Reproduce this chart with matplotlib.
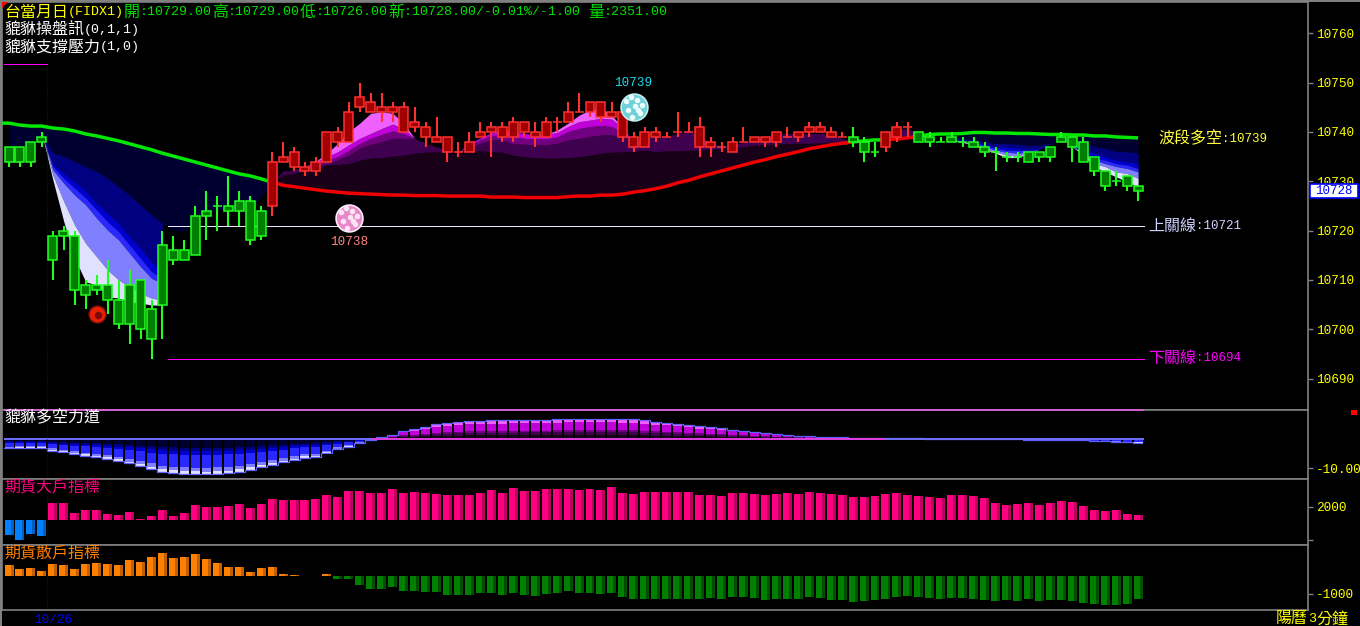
import re
import numpy as np
import matplotlib
matplotlib.use('Agg')
import matplotlib.pyplot as plt
from matplotlib.lines import Line2D
from matplotlib.patches import Rectangle

W, H = 1360, 626

opens = [10737, 10737, 10738, 10739, 10719, 10720, 10719, 10709, 10709, 10709,
         10706, 10709, 10710, 10704, 10717, 10716, 10716, 10723, 10724, 10725,
         10725, 10726, 10726, 10724, 10725, 10734, 10733, 10732, 10732, 10734,
         10738, 10738, 10745, 10744, 10744, 10744, 10740, 10741, 10739, 10738,
         10736, 10736, 10736, 10739, 10740, 10739, 10739, 10740, 10739, 10739,
         10742, 10742, 10744, 10744, 10743, 10743, 10739, 10737, 10737, 10739,
         10739, 10740, 10740, 10737, 10737, 10737, 10736, 10738, 10738, 10738,
         10738, 10739, 10739, 10740, 10740, 10739, 10739, 10739, 10738, 10736,
         10737, 10739, 10741, 10740, 10739, 10738, 10739, 10738, 10738, 10737,
         10736, 10735, 10735, 10736, 10736, 10737, 10739, 10739, 10738, 10735,
         10732, 10730, 10731, 10729]
highs = [10737, 10737, 10738, 10740, 10720, 10721, 10720, 10710, 10711, 10714,
         10710, 10712, 10710, 10706, 10720, 10719, 10718, 10725, 10728, 10727,
         10731, 10728, 10727, 10725, 10736, 10738, 10737, 10734, 10735, 10740,
         10741, 10746, 10750, 10748, 10748, 10746, 10746, 10745, 10742, 10743,
         10739, 10738, 10740, 10742, 10742, 10742, 10743, 10742, 10742, 10743,
         10743, 10746, 10748, 10746, 10746, 10746, 10744, 10740, 10741, 10741,
         10740, 10744, 10742, 10743, 10739, 10738, 10739, 10741, 10739, 10739,
         10740, 10741, 10740, 10742, 10742, 10741, 10740, 10741, 10739, 10738,
         10740, 10742, 10742, 10740, 10740, 10739, 10740, 10739, 10739, 10738,
         10737, 10736, 10736, 10736, 10736, 10737, 10740, 10739, 10739, 10735,
         10732, 10732, 10731, 10729]
lows = [10733, 10733, 10733, 10737, 10710, 10716, 10705, 10704, 10707, 10703,
        10700, 10697, 10698, 10694, 10698, 10713, 10714, 10715, 10718, 10720,
        10721, 10721, 10717, 10718, 10723, 10734, 10732, 10731, 10731, 10734,
        10737, 10738, 10744, 10744, 10742, 10742, 10740, 10740, 10737, 10738,
        10734, 10735, 10736, 10739, 10735, 10738, 10738, 10739, 10737, 10739,
        10740, 10742, 10744, 10743, 10742, 10743, 10738, 10736, 10737, 10738,
        10739, 10739, 10740, 10735, 10735, 10736, 10736, 10738, 10738, 10737,
        10737, 10739, 10738, 10739, 10740, 10739, 10739, 10737, 10734, 10735,
        10736, 10738, 10739, 10738, 10737, 10738, 10738, 10737, 10737, 10735,
        10732, 10734, 10734, 10734, 10734, 10734, 10738, 10734, 10734, 10731,
        10728, 10729, 10728, 10726]
closes = [10734, 10734, 10734, 10738, 10714, 10719, 10708, 10707, 10708, 10706,
          10701, 10701, 10700, 10698, 10705, 10714, 10714, 10715, 10723, 10725,
          10724, 10724, 10718, 10719, 10734, 10735, 10736, 10733, 10734, 10740,
          10740, 10744, 10747, 10746, 10745, 10745, 10745, 10742, 10741, 10739,
          10739, 10736, 10738, 10740, 10741, 10741, 10742, 10742, 10740, 10742,
          10742, 10744, 10744, 10746, 10746, 10744, 10744, 10739, 10740, 10740,
          10739, 10740, 10740, 10741, 10738, 10737, 10738, 10738, 10739, 10739,
          10740, 10739, 10740, 10741, 10741, 10740, 10739, 10738, 10736, 10736,
          10740, 10741, 10741, 10738, 10738, 10738, 10738, 10738, 10737, 10736,
          10736, 10735, 10735, 10734, 10735, 10735, 10738, 10737, 10734, 10732,
          10729, 10730, 10729, 10728]

# wave line, first value is the left edge of the chart
wave = [41.8, 41.8, 41.4, 41.2, 41.2, 40.8, 40.6, 40.2, 39.6, 39.2, 38.7,
        38.2, 37.6, 37.0, 36.4, 35.7, 35.1, 34.5, 33.9, 33.3, 32.7,
        32.1, 31.5, 31.1, 30.5, 29.8, 29.2, 28.9, 28.6, 28.3, 28.0,
        27.8, 27.6, 27.5, 27.4, 27.3, 27.2, 27.2, 27.1, 27.1, 27.1,
        27.0, 27.0, 27.0, 27.0, 26.8, 26.8, 26.8, 26.7, 26.7, 26.7,
        26.7, 26.9, 27.0, 27.0, 27.2, 27.2, 27.4, 27.8, 28.1, 28.5,
        29.0, 29.7, 30.2, 30.9, 31.5, 32.1, 32.7, 33.3, 33.9, 34.4,
        35.0, 35.5, 36.0, 36.6, 37.0, 37.4, 37.7, 38.0, 38.2, 38.4,
        38.4, 38.6, 38.8, 39.2, 39.5, 39.6, 39.6, 39.7, 39.9, 39.9,
        39.8, 39.8, 39.7, 39.7, 39.6, 39.5, 39.5, 39.4, 39.4, 39.2,
        39.2, 39.0, 38.9, 38.8, 38.7]
wave_breaks = [0, 24, 77, 80, 83, 104]
wave_trend = ['bear', 'bull', 'bear', 'bull', 'bear']

# fan under the wave line on the way down
bear_dark = [37.0, 37.0, 38.0, 39.7, 35.8, 35.1, 34.0, 33.0, 32.0, 30.6, 28.9, 27.2,
             25.2, 23.2, 21.5, 20.1, 19.8, 22.5, 23.5, 24.2, 24.2, 23.8, 24.2, 26.9, 29.8]
bear1_e2 = [39.7, 33.6, 31.6, 29.9, 27.9, 25.5, 23.5, 21.5, 18.8, 16.4, 13.7, 12.0]
bear1_e3 = [39.7, 33.0, 30.6, 28.6, 26.6, 24.2, 21.8, 19.8, 17.1, 14.4, 11.7, 10.3]
bear1_e4 = [39.7, 32.3, 29.6, 27.2, 25.2, 22.5, 20.1, 18.1, 15.4, 12.7, 10.3, 9.3]
bear1_e5 = [39.7, 31.3, 25.9, 21.1, 17.4, 14.7, 12.0, 10.0, 8.6, 7.3, 6.3, 5.9]
bear1_e6 = [39.7, 30.3, 21.8, 14.4, 9.6, 9.0, 6.6, 6.3, 5.6, 5.3, 4.9, 4.9]

# same fan at the right end
bear3_e1 = [39.0, 38.7, 38.4, 38.0, 37.7, 37.7, 37.5, 37.3, 37.3, 37.7, 38.8, 38.4, 38.0, 37.0, 36.7, 36.1, 36.0, 35.7]
bear3_e2 = [38.7, 38.4, 38.0, 37.5, 37.0, 37.0, 36.8, 36.5, 36.7, 37.5, 38.7, 37.3, 36.5, 35.7, 35.0, 34.3, 34.0, 33.6]
bear3_e3 = [38.6, 38.2, 37.9, 37.3, 36.7, 36.3, 36.3, 36.3, 36.5, 37.5, 38.7, 37.2, 36.1, 34.6, 34.3, 33.6, 33.3, 32.6]
bear3_e4 = [38.4, 38.2, 37.7, 37.0, 36.3, 35.9, 35.7, 35.9, 36.5, 37.5, 38.7, 37.0, 35.9, 34.3, 33.6, 33.0, 32.6, 31.9]
bear3_e5 = [38.4, 38.0, 37.5, 36.7, 36.0, 35.3, 35.2, 35.7, 36.5, 37.5, 38.7, 37.0, 35.7, 33.6, 33.0, 31.9, 31.6, 30.6]
bear3_e6 = [38.3, 37.9, 37.3, 36.5, 35.7, 34.8, 34.8, 35.7, 36.5, 37.5, 38.7, 37.0, 35.3, 33.0, 31.9, 30.9, 29.9, 28.9]

# fan over the wave line on the way up
bull_u1 = [30.0, 31.3, 31.6, 32.3, 32.6, 33.3, 33.4, 33.6, 34.3, 34.7,
           34.8, 35.1, 35.3, 35.7, 35.9, 36.0, 36.0, 36.0, 36.1, 36.2,
           36.0, 35.9, 35.3, 35.0, 34.8, 34.7, 34.7, 34.8, 35.0, 35.3,
           35.7, 35.9, 36.0, 36.1, 36.3, 36.0, 36.2, 36.2, 36.3, 36.3,
           36.5, 36.7, 36.9, 37.0, 37.3, 37.5, 37.5, 37.7, 37.7, 37.7,
           37.8, 38.0, 38.0, 38.0]
bull_u2 = [30.0, 32.1, 32.3, 32.6, 33.2, 33.6, 34.3, 35.3, 36.7, 37.5,
           38.0, 38.7, 38.7, 38.7, 37.7, 37.0, 36.3, 36.0, 37.0, 37.7,
           38.4, 38.4, 37.6, 37.5, 37.4, 37.4, 37.7, 38.4, 38.7, 39.1,
           39.4, 39.4, 39.1, 38.0, 38.7, 39.1, 39.1, 39.7, 40.4, 39.0,
           38.0, 37.0, 37.3, 38.0, 38.7, 39.0, 39.6, 39.7, 39.6, 39.7,
           39.7, 39.6, 38.7, 38.0]
bull_u3 = [30.0, 32.1, 32.3, 33.0, 33.6, 34.3, 35.0, 36.3, 37.7, 38.7,
           39.5, 40.2, 39.7, 38.7, 37.7, 37.0, 36.3, 36.0, 37.4, 38.4,
           39.3, 39.5, 39.0, 38.7, 38.6, 38.6, 39.0, 40.1, 40.7, 41.1,
           41.3, 41.1, 39.7, 38.0]
bull_u4 = [30.0, 32.1, 32.3, 33.0, 34.0, 35.0, 36.0, 37.4, 38.7, 39.7,
           40.7, 41.6, 40.7, 38.7, 37.7, 37.0, 36.3, 36.0, 37.7, 38.8,
           39.9, 40.4, 40.1, 39.7, 39.5, 39.5, 39.9, 41.1, 42.1, 42.4,
           42.8, 42.6, 40.7, 38.0]
bull_u5 = [30.0, 32.1, 32.3, 33.0, 34.1, 35.7, 37.7, 40.1, 41.8, 43.8,
           44.1, 43.8, 41.8, 38.7, 37.7, 37.0, 36.3, 36.0, 37.7, 38.8,
           39.9, 40.4, 40.1, 39.7, 39.5, 39.5, 40.4, 41.8, 43.4, 44.5,
           44.8, 43.4, 40.7, 38.0]
bull2_top = [38.4, 39.5, 40.6, 40.7, 39.5]

power = [-3.3, -3.1, -3.1, -3.1, -4.1, -4.7, -5.3, -5.8, -6.4, -6.9,
         -7.6, -8.4, -9.2, -10.3, -11.2, -11.6, -11.9, -12.0, -12.1, -11.9,
         -11.7, -11.2, -10.5, -9.8, -9.0, -8.1, -7.3, -6.5, -6.2, -5.0,
         -3.7, -2.8, -1.6, -0.5, 0.4, 1.2, 2.5, 3.2, 4.0, 4.8,
         5.1, 5.5, 5.9, 6.0, 6.2, 6.2, 6.3, 6.4, 6.4, 6.4,
         6.6, 6.7, 6.7, 6.7, 6.7, 6.7, 6.6, 6.5, 6.2, 5.7,
         5.4, 5.0, 4.6, 4.1, 3.9, 3.4, 3.0, 2.5, 2.1, 1.8,
         1.4, 1.1, 1.0, 0.8, 0.6, 0.5, 0.4, 0.3, 0.3, 0.2,
         0.2, 0.1, 0.1, 0.1, 0.0, 0.0, 0.0, 0.0, 0.0, 0.0,
         -0.1, -0.2, -0.3, -0.4, -0.5, -0.6, -0.6, -0.6, -0.6, -0.9,
         -1.0, -1.1, -1.3, -1.4]

big_trader = [-2250, -3000, -2100, -2400, 2550, 2550, 1050, 1500, 1500, 900,
              750, 1200, 100, 600, 1500, 600, 1050, 2250, 1950, 1950,
              2100, 2400, 1800, 2400, 3150, 3000, 3000, 3000, 3150, 3750,
              3450, 4350, 4350, 4050, 4050, 4650, 4050, 4200, 4050, 3900,
              3750, 3750, 3750, 4050, 4500, 4050, 4800, 4350, 4350, 4650,
              4650, 4650, 4500, 4650, 4500, 4950, 4050, 3900, 4200, 4200,
              4200, 4200, 4200, 3750, 3750, 3600, 4050, 4050, 3900, 3750,
              3900, 4050, 3900, 4200, 4050, 3900, 3750, 3450, 3450, 3600,
              3900, 4050, 3750, 3600, 3450, 3300, 3750, 3750, 3600, 3300,
              2550, 2250, 2400, 2550, 2250, 2550, 2850, 2700, 2100, 1500,
              1350, 1500, 900, 750]

retail = [610, 390, 445, 280, 665, 610, 390, 665, 720, 665,
          610, 890, 780, 1055, 1275, 1000, 1055, 1220, 945, 720,
          500, 500, 220, 445, 500, 110, 55, 20, 20, 110,
          -165, -165, -500, -720, -720, -610, -830, -830, -890, -890,
          -1055, -1055, -1055, -945, -945, -1055, -945, -1055, -1110, -1000,
          -945, -830, -945, -945, -1000, -945, -1165, -1275, -1275, -1275,
          -1275, -1275, -1275, -1275, -1220, -1275, -1165, -1165, -1220, -1330,
          -1275, -1275, -1275, -1165, -1220, -1330, -1330, -1440, -1390, -1330,
          -1275, -1165, -1110, -1165, -1220, -1275, -1220, -1220, -1275, -1330,
          -1390, -1330, -1390, -1275, -1390, -1330, -1330, -1390, -1500, -1555,
          -1610, -1610, -1555, -1275]

price_ticks = [10690, 10700, 10710, 10720, 10730, 10740, 10750, 10760]
upper_level = 10721
lower_level = 10694

BEAR_COLORS = ['#000030', '#000080', '#0000d0', '#2828ff', '#8080ff', '#e0e0ff']
BULL_COLORS = ['#180018', '#400050', '#700080', '#c000d8', '#f060ff', '#ffd0ff']
BEAR_STEPS = [0.26, 0.36, 0.46, 0.82, 0.93, 1.0]
BULL_STEPS = [0.18, 0.32, 0.42, 0.82, 0.95, 1.0]
GRAY = '#808080'

plt.rcParams['font.family'] = ['Liberation Mono', 'Noto Sans CJK TC']


def pos(x, y):
    return x / W, 1 - y / H


def px_text(x, y, s, color, ascii_w=8.0):
    # the source uses a bitmap font: CJK 16 px wide, latin half of that
    for run in re.findall(r'[\x00-\x7f]+|[^\x00-\x7f]+', s):
        if run[0].isascii():
            fig.text(*pos(x, y), run, color=color, va='center', ha='left',
                     family='Liberation Mono', fontsize=ascii_w / 0.6 * 0.72)
            x += len(run) * ascii_w
        else:
            fig.text(*pos(x, y), run, color=color, va='center', ha='left',
                     family='Noto Sans CJK TC', fontsize=11.5)
            x += len(run) * 16


def add_panel(top, bottom):
    a = fig.add_axes([2 / W, 1 - bottom / H, 1306 / W, (bottom - top) / H])
    a.set_facecolor('black')
    a.set_xlim(-0.64, 118.5)
    a.set_xticks([])
    a.yaxis.tick_right()
    a.tick_params(axis='y', direction='out', length=3.6, width=1, color=GRAY,
                  labelcolor='#ffff00', labelsize=9.2, pad=2)
    for side in a.spines:
        a.spines[side].set_color(GRAY)
        a.spines[side].set_linewidth(1.2)
    return a


def band(a, x, lo, hi, color):
    a.fill_between(x, lo, hi, color=color, linewidth=0, antialiased=False, zorder=1)


def gradient_bars(a, x, vals, steps, colors):
    x = np.asarray(x)
    vals = np.asarray(vals)
    prev = 0.0
    for st, c in zip(steps, colors):
        a.bar(x, vals * (st - prev), bottom=vals * prev, width=0.82, color=c,
              linewidth=0, antialiased=False)
        prev = st


def shaded_bars(a, x, vals, color, dark):
    a.bar(x, vals, width=0.82, color=color, linewidth=0, antialiased=False)
    a.bar(np.asarray(x) + 0.275, vals, width=0.27, color=dark, linewidth=0, antialiased=False)


def ball(a, x, y, rim, body, flecks):
    a.scatter([x], [y], s=420, color=rim, linewidths=0, zorder=6)
    a.scatter([x], [y], s=330, color=body, linewidths=0, zorder=6)
    # mottled surface of the signal ball
    fx = [-0.7, -0.3, 0.3, 0.7, -0.5, 0.1, 0.6, -0.2, 0.4]
    fy = [1.2, 2.0, 1.5, 0.4, -0.6, 0.2, -1.2, -1.9, -0.5]
    a.scatter(x + np.array(fx), y + np.array(fy), s=16, color=flecks, linewidths=0, zorder=6)


fig = plt.figure(figsize=(W / 100, H / 100), dpi=100, facecolor='black')

idx = np.arange(len(closes))
base = 10700

# main price panel
ax = add_panel(2, 410)
ax.set_ylim(10740 - (410 - 132) / 4.93, 10740 - (2 - 132) / 4.93)
ax.set_yticks(price_ticks)
ax.set_yticklabels([str(p) for p in price_ticks])

wave_price = base + np.array(wave)
wave_x = np.r_[-0.64, idx]
wave_i = wave_price[1:]

# left fan
band(ax, idx[:25], wave_i[:25], base + np.array(bear_dark), BEAR_COLORS[0])
bear1_x = np.arange(3, 15)
bear1_edges = [base + np.array(bear_dark[3:15]), base + np.array(bear1_e2), base + np.array(bear1_e3),
               base + np.array(bear1_e4), base + np.array(bear1_e5), base + np.array(bear1_e6)]
for k in range(5):
    band(ax, bear1_x, bear1_edges[k], bear1_edges[k + 1], BEAR_COLORS[k + 1])

# right fan
bear3_x = np.arange(86, 104)
bear3_edges = [wave_i[86:104], base + np.array(bear3_e1), base + np.array(bear3_e2), base + np.array(bear3_e3),
               base + np.array(bear3_e4), base + np.array(bear3_e5), base + np.array(bear3_e6)]
for k in range(6):
    band(ax, bear3_x, bear3_edges[k], bear3_edges[k + 1], BEAR_COLORS[k])

# middle fan
bull_x = np.arange(24, 78)
bull_hi_x = np.arange(24, 58)
band(ax, bull_x, wave_i[24:78], base + np.array(bull_u1), BULL_COLORS[0])
band(ax, bull_x, base + np.array(bull_u1), base + np.array(bull_u2), BULL_COLORS[1])
band(ax, bull_hi_x, base + np.array(bull_u2[:34]), base + np.array(bull_u3), BULL_COLORS[2])
band(ax, bull_hi_x, base + np.array(bull_u3), base + np.array(bull_u4), BULL_COLORS[3])
band(ax, bull_hi_x, base + np.array(bull_u4), base + np.array(bull_u5), BULL_COLORS[4])
band(ax, np.arange(79, 84), wave_i[79:84], base + np.array(bull2_top), BULL_COLORS[1])

ax.hlines(upper_level, 14.5, 103.5, color='#e8e8ff', lw=0.6, antialiased=False, zorder=2)
ax.hlines(lower_level, 14.5, 103.5, color='#ff00ff', lw=0.6, antialiased=False, zorder=2)
ax.axvline(3.5, ymin=0, ymax=(410 - 62) / 408, color='#0000ff', lw=0.72, ls=(0, (1, 2)), zorder=2)

# wave line and candles, colour follows the trend
for k, trend in enumerate(wave_trend):
    a, b = wave_breaks[k], wave_breaks[k + 1]
    line_c, edge_c, body_c = (('#00e800', '#20ff20', '#008000') if trend == 'bear'
                              else ('#f00000', '#ff3030', '#a00000'))
    if k == 0:
        lx, ly = wave_x[:b + 2], wave_price[:b + 2]
    else:
        lx, ly = idx[a:min(b + 1, 104)], wave_i[a:min(b + 1, 104)]
    ax.plot(lx, ly, color=line_c, lw=2.5, solid_capstyle='butt', zorder=3)
    x = idx[a:b]
    o = np.array(opens[a:b])
    c = np.array(closes[a:b])
    ax.vlines(x, lows[a:b], highs[a:b], color=edge_c, lw=1.5, zorder=4)
    ax.bar(x, np.abs(c - o), bottom=np.minimum(o, c), width=0.82, facecolor=body_c,
           edgecolor=edge_c, linewidth=1.1, zorder=5)

# signal balls
ball(ax, 57, 10745, '#c8eef0', '#70d0d8', '#eafcfc')
ball(ax, 31, 10722.5, '#fff0fa', '#e888c8', '#fbe4f4')
ax.scatter([8], [10703], s=150, color='#e82000', edgecolors='#701010', linewidths=1, zorder=6)
ax.scatter([8.1], [10702.8], s=30, color='#800808', linewidths=0, zorder=6)

# strength panel
ax1 = add_panel(410, 479)
ax1.set_ylim(-13.7, 9.66)
ax1.set_yticks([-10])
ax1.set_yticklabels(['-10.00'])
neg = np.minimum(power, 0)
pos_part = np.maximum(power, 0)
gradient_bars(ax1, idx, neg, BEAR_STEPS, BEAR_COLORS)
gradient_bars(ax1, idx, pos_part, BULL_STEPS, BULL_COLORS)
ax1.step(np.r_[-0.5, idx, 103.4], np.r_[power[0], power, power[-1]], where='mid', color='#6060ff', lw=0.9)
ax1.hlines(0, -0.5, 33, color='#7070ff', lw=1.4)
ax1.hlines(0, 33, 80, color='#e040e0', lw=1.4)
ax1.hlines(0, 80, 103.5, color='#7070ff', lw=1.4)
ax1.axvline(3.5, color='#0000ff', lw=0.72, ls=(0, (1, 2)))
ax1.hlines(9.66, -0.5, 103.5, color='#e060e0', lw=1.2, clip_on=False, zorder=6)

# big trader panel
ax2 = add_panel(479, 545)
ax2.set_ylim(-3750, 6150)
ax2.set_yticks([-3000, 2000])
ax2.set_yticklabels(['', '2000'])
big = np.array(big_trader)
shaded_bars(ax2, idx[big < 0], big[big < 0], '#0080ff', '#0060c0')
shaded_bars(ax2, idx[big >= 0], big[big >= 0], '#ff0080', '#c00060')
ax2.axvline(3.5, color='#0000ff', lw=0.72, ls=(0, (1, 2)))

# retail panel
ax3 = add_panel(545, 610)
ax3.set_ylim(-1890, 1720)
ax3.set_yticks([-1000])
ax3.set_yticklabels(['-1000'])
ret = np.array(retail)
shaded_bars(ax3, idx[ret >= 0], ret[ret >= 0], '#ff8000', '#c06000')
shaded_bars(ax3, idx[ret < 0], ret[ret < 0], '#008000', '#005000')
ax3.axvline(3.5, color='#0000ff', lw=0.72, ls=(0, (1, 2)))

# frame bits outside the axes
fig.add_artist(Rectangle((0, 0), 2 / W, 1, transform=fig.transFigure, color=GRAY, lw=0))
fig.add_artist(Rectangle(pos(0, 2), 1, 2 / H, transform=fig.transFigure, color=GRAY, lw=0))
fig.add_artist(plt.Polygon([pos(2, 2), pos(8, 2), pos(2, 8)], closed=True, color='#ff0000', lw=0,
                           transform=fig.transFigure))
fig.add_artist(Line2D([4 / W, 47 / W], [1 - 64 / H] * 2, color='#ff00ff', lw=0.6, antialiased=False))
fig.add_artist(Rectangle(pos(1351, 415), 6 / W, 5 / H, transform=fig.transFigure, color='#ff0000', lw=0))
fig.add_artist(Rectangle(pos(1310, 198), 48 / W, 14 / H, transform=fig.transFigure,
                         facecolor='white', edgecolor='#0000ff', lw=1.2, zorder=8))
fig.text(*pos(1315, 191), '10728', color='#0000ff', va='center', ha='left',
         family='Liberation Mono', fontsize=9, zorder=9)

# header and labels
px_text(4, 12, '台當月日(FIDX1)', '#ffff00')
px_text(124, 12, '開:10729.00高:10729.00低:10726.00新:10728.00/-0.01%/-1.00 量:2351.00', '#00e000')
px_text(4, 30, '貔貅操盤訊(0,1,1)', 'white')
px_text(4, 47, '貔貅支撐壓力(1,0)', 'white')
px_text(4, 418, '貔貅多空力道', 'white')
px_text(4, 487, '期貨大戶指標', '#ff0080')
px_text(4, 553, '期貨散戶指標', '#ff8000')
px_text(1158, 139, '波段多空:10739', '#ffff40', ascii_w=7.5)
px_text(1148, 226, '上關線:10721', '#d0d0ff', ascii_w=7.5)
px_text(1148, 358, '下關線:10694', '#ff00ff', ascii_w=7.5)
px_text(614, 83, '10739', '#20d8e8', ascii_w=7.6)
px_text(330, 242, '10738', '#ff8080', ascii_w=7.6)
px_text(34, 620, '10/26', '#0000ff', ascii_w=7.6)
px_text(1276, 619, '陽曆3分鐘', '#ffff00')

fig.savefig('out.png', dpi=100, facecolor='black')
